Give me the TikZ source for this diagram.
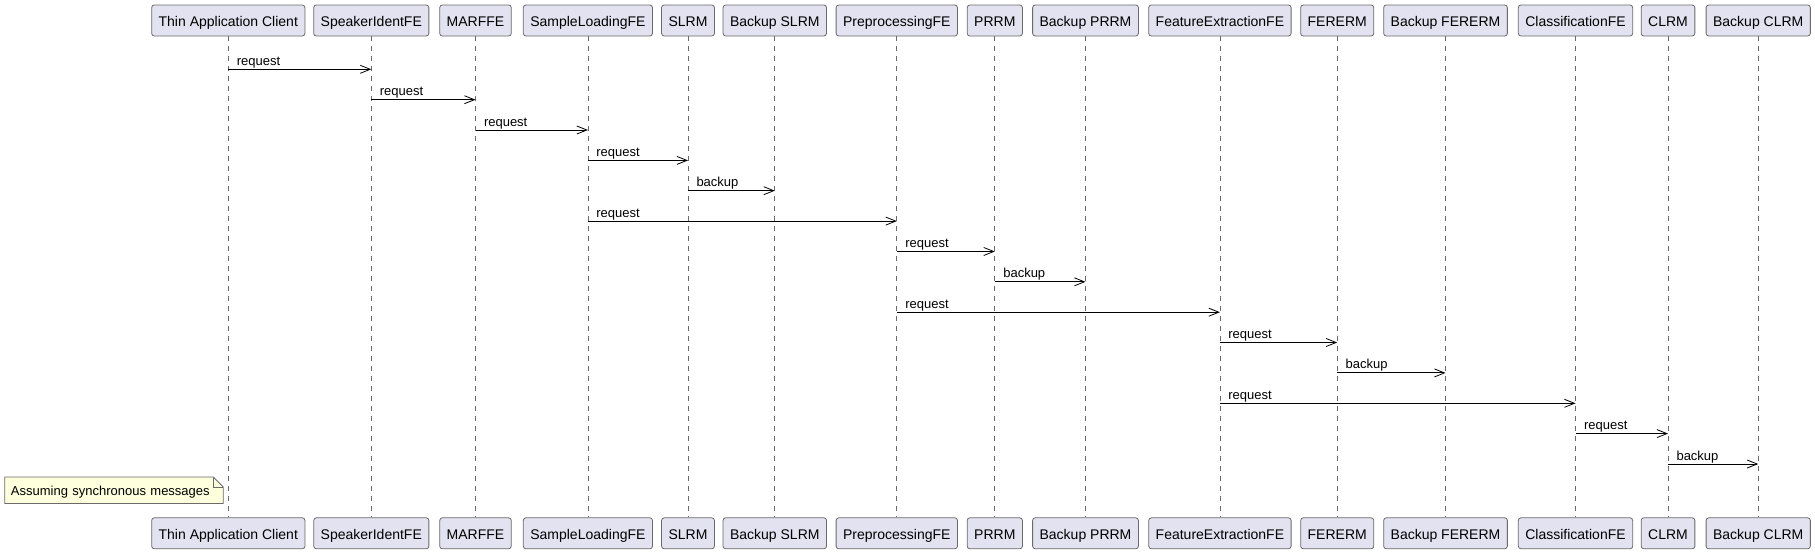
\documentclass[tikz,border=0pt]{standalone}
\usepackage{fontspec}
\setmainfont{Liberation Sans}
\usepackage{tikz}
\usetikzlibrary{arrows.meta}

\definecolor{partfill}{HTML}{E2E2F0}
\definecolor{partline}{HTML}{6A6A6A}
\definecolor{notefill}{HTML}{FEFFDD}

\begin{document}
\begin{tikzpicture}[x=0.75pt, y=-0.75pt,
		part/.style={draw=partline, line width=0.6pt, fill=partfill, rounded corners=2pt,
			minimum height=23.25pt, inner xsep=5.25pt, inner ysep=0pt,
			text height=9.4pt, text depth=0.4pt,
			font=\fontsize{10.5}{12}\selectfont},
		lifeline/.style={draw=partline, line width=0.5pt, dash pattern=on 3.75pt off 3.75pt},
		msg/.style={line width=0.75pt, -{Straight Barb[length=7.5pt, width=6pt, line width=0.6pt]}},
		msglbl/.style={anchor=base west, inner sep=0pt, xshift=6pt, yshift=3pt,
			font=\fontsize{9.75}{11}\selectfont},
		notebox/.style={text width=154.5pt, inner xsep=4.5pt, inner ysep=0pt,
			minimum height=19.5pt, align=left, text height=8.6pt, text depth=0.4pt,
			font=\fontsize{9.75}{11}\selectfont}]
			\useasboundingbox (0, 0) rectangle (1815, 554);

			\node [part] (tac) at (228.3, 20.5) {Thin Application Client};
			\node [part] (sif) at (371.3, 20.5) {SpeakerIdentFE};
			\node [part] (marf) at (475.5, 20.5) {MARFFE};
			\node [part] (slfe) at (587.9, 20.5) {SampleLoadingFE};
			\node [part] (slrm) at (688, 20.5) {SLRM};
			\node [part] (bslrm) at (774.8, 20.5) {Backup SLRM};
			\node [part] (prfe) at (896.8, 20.5) {PreprocessingFE};
			\node [part] (prrm) at (994.8, 20.5) {PRRM};
			\node [part] (bprrm) at (1085.5, 20.5) {Backup PRRM};
			\node [part] (fefe) at (1219.9, 20.5) {FeatureExtractionFE};
			\node [part] (ferm) at (1337.2, 20.5) {FERERM};
			\node [part] (bferm) at (1445.5, 20.5) {Backup FERERM};
			\node [part] (clfe) at (1575.5, 20.5) {ClassificationFE};
			\node [part] (clrm) at (1668, 20.5) {CLRM};
			\node [part] (bclrm) at (1758.2, 20.5) {Backup CLRM};

			\node [part] (tac-b) at (228.3, 533.3) {Thin Application Client};
			\node [part] (sif-b) at (371.3, 533.3) {SpeakerIdentFE};
			\node [part] (marf-b) at (475.5, 533.3) {MARFFE};
			\node [part] (slfe-b) at (587.9, 533.3) {SampleLoadingFE};
			\node [part] (slrm-b) at (688, 533.3) {SLRM};
			\node [part] (bslrm-b) at (774.8, 533.3) {Backup SLRM};
			\node [part] (prfe-b) at (896.8, 533.3) {PreprocessingFE};
			\node [part] (prrm-b) at (994.8, 533.3) {PRRM};
			\node [part] (bprrm-b) at (1085.5, 533.3) {Backup PRRM};
			\node [part] (fefe-b) at (1219.9, 533.3) {FeatureExtractionFE};
			\node [part] (ferm-b) at (1337.2, 533.3) {FERERM};
			\node [part] (bferm-b) at (1445.5, 533.3) {Backup FERERM};
			\node [part] (clfe-b) at (1575.5, 533.3) {ClassificationFE};
			\node [part] (clrm-b) at (1668, 533.3) {CLRM};
			\node [part] (bclrm-b) at (1758.2, 533.3) {Backup CLRM};

			\draw [lifeline] (tac) -- (tac-b);
			\draw [lifeline] (sif) -- (sif-b);
			\draw [lifeline] (marf) -- (marf-b);
			\draw [lifeline] (slfe) -- (slfe-b);
			\draw [lifeline] (slrm) -- (slrm-b);
			\draw [lifeline] (bslrm) -- (bslrm-b);
			\draw [lifeline] (prfe) -- (prfe-b);
			\draw [lifeline] (prrm) -- (prrm-b);
			\draw [lifeline] (bprrm) -- (bprrm-b);
			\draw [lifeline] (fefe) -- (fefe-b);
			\draw [lifeline] (ferm) -- (ferm-b);
			\draw [lifeline] (bferm) -- (bferm-b);
			\draw [lifeline] (clfe) -- (clfe-b);
			\draw [lifeline] (clrm) -- (clrm-b);
			\draw [lifeline] (bclrm) -- (bclrm-b);

			\draw [msg] (tac |- 0, 69.3) -- (sif |- 0, 69.3) node [pos=0, msglbl] {request};
			\draw [msg] (sif |- 0, 99.7) -- (marf |- 0, 99.7) node [pos=0, msglbl] {request};
			\draw [msg] (marf |- 0, 130.0) -- (slfe |- 0, 130.0) node [pos=0, msglbl] {request};
			\draw [msg] (slfe |- 0, 160.4) -- (slrm |- 0, 160.4) node [pos=0, msglbl] {request};
			\draw [msg] (slrm |- 0, 190.7) -- (bslrm |- 0, 190.7) node [pos=0, msglbl] {backup};
			\draw [msg] (slfe |- 0, 221.1) -- (prfe |- 0, 221.1) node [pos=0, msglbl] {request};
			\draw [msg] (prfe |- 0, 251.5) -- (prrm |- 0, 251.5) node [pos=0, msglbl] {request};
			\draw [msg] (prrm |- 0, 281.8) -- (bprrm |- 0, 281.8) node [pos=0, msglbl] {backup};
			\draw [msg] (prfe |- 0, 312.2) -- (fefe |- 0, 312.2) node [pos=0, msglbl] {request};
			\draw [msg] (fefe |- 0, 342.5) -- (ferm |- 0, 342.5) node [pos=0, msglbl] {request};
			\draw [msg] (ferm |- 0, 372.9) -- (bferm |- 0, 372.9) node [pos=0, msglbl] {backup};
			\draw [msg] (fefe |- 0, 403.3) -- (clfe |- 0, 403.3) node [pos=0, msglbl] {request};
			\draw [msg] (clfe |- 0, 433.6) -- (clrm |- 0, 433.6) node [pos=0, msglbl] {request};
			\draw [msg] (clrm |- 0, 464.0) -- (bclrm |- 0, 464.0) node [pos=0, msglbl] {backup};

			\node [notebox] (note) at (114, 490.3) {Assuming synchronous messages};
			\draw [draw=partline, line width=0.6pt, fill=notefill] (note.north west)
			-- ([xshift=-7.5pt]note.north east) -- ([yshift=-7.5pt]note.north east)
			-- (note.south east) -- (note.south west) -- cycle;
			\draw [draw=partline, line width=0.6pt] ([xshift=-7.5pt]note.north east)
			|- ([yshift=-7.5pt]note.north east);
			\node [notebox] at (note) {Assuming synchronous messages};
		\end{tikzpicture}
\end{document}
